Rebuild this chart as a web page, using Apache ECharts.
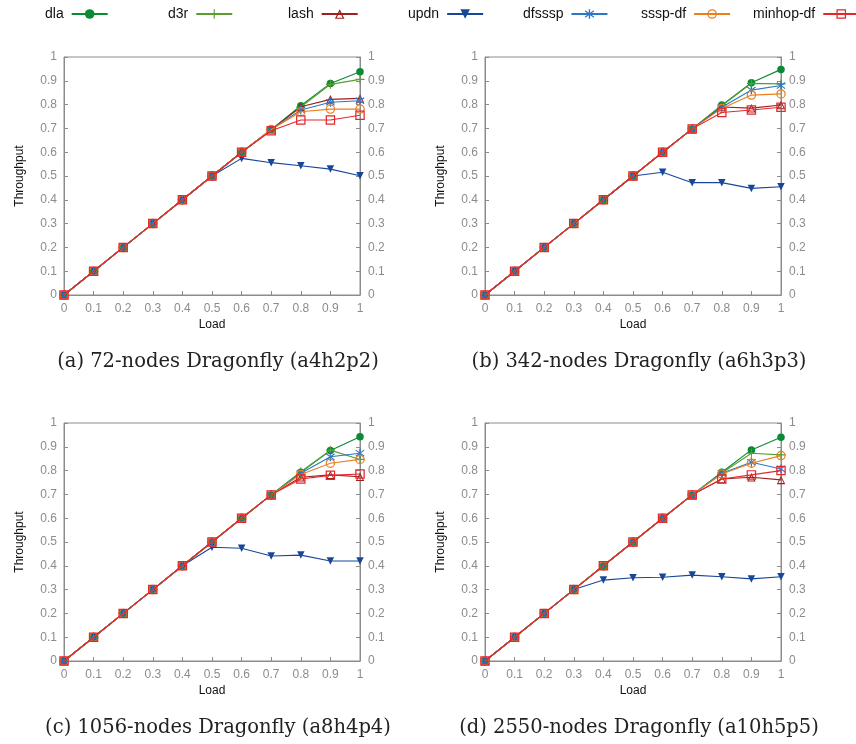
<!DOCTYPE html>
<html><head><meta charset="utf-8">
<script src="https://cdn.jsdelivr.net/npm/echarts@6/dist/echarts.min.js"></script>
<style>html,body{margin:0;padding:0;background:#fff}#c{width:856px;height:744px}</style>
</head><body><div id="c"></div>
<script>
const loads = [0, 0.1, 0.2, 0.3, 0.4, 0.5, 0.6, 0.7, 0.8, 0.9, 1];
const seriesNames = ['dla', 'd3r', 'lash', 'updn', 'dfsssp', 'sssp-df', 'minhop-df'];
const yTicks = ['0','0.1','0.2','0.3','0.4','0.5','0.6','0.7','0.8','0.9','1'];
const captions = ['(a) 72-nodes Dragonfly (a4h2p2)', '(b) 342-nodes Dragonfly (a6h3p3)',
                  '(c) 1056-nodes Dragonfly (a8h4p4)', '(d) 2550-nodes Dragonfly (a10h5p5)'];

// Panel (a)
const a_dla    = [0, 0.1, 0.2, 0.3, 0.4, 0.5, 0.6, 0.695, 0.795, 0.889, 0.938];
const a_d3r    = [0, 0.1, 0.2, 0.3, 0.4, 0.5, 0.6, 0.695, 0.790, 0.885, 0.906];
const a_lash   = [0, 0.1, 0.2, 0.3, 0.4, 0.5, 0.6, 0.695, 0.791, 0.822, 0.826];
const a_updn   = [0, 0.1, 0.2, 0.3, 0.4, 0.5, 0.574, 0.556, 0.543, 0.529, 0.501];
const a_dfsssp = [0, 0.1, 0.2, 0.3, 0.4, 0.5, 0.6, 0.695, 0.777, 0.810, 0.816];
const a_ssspdf = [0, 0.1, 0.2, 0.3, 0.4, 0.5, 0.6, 0.695, 0.770, 0.781, 0.781];
const a_minhop = [0, 0.1, 0.2, 0.3, 0.4, 0.5, 0.6, 0.690, 0.735, 0.735, 0.755];
// Panel (b)
const b_dla    = [0, 0.1, 0.2, 0.3, 0.4, 0.5, 0.6, 0.698, 0.798, 0.892, 0.948];
const b_d3r    = [0, 0.1, 0.2, 0.3, 0.4, 0.5, 0.6, 0.698, 0.795, 0.889, 0.887];
const b_lash   = [0, 0.1, 0.2, 0.3, 0.4, 0.5, 0.6, 0.698, 0.790, 0.785, 0.798];
const b_updn   = [0, 0.1, 0.2, 0.3, 0.4, 0.5, 0.516, 0.472, 0.472, 0.448, 0.455];
const b_dfsssp = [0, 0.1, 0.2, 0.3, 0.4, 0.5, 0.6, 0.698, 0.789, 0.861, 0.880];
const b_ssspdf = [0, 0.1, 0.2, 0.3, 0.4, 0.5, 0.6, 0.698, 0.784, 0.840, 0.845];
const b_minhop = [0, 0.1, 0.2, 0.3, 0.4, 0.5, 0.6, 0.698, 0.767, 0.777, 0.789];
// Panel (c)
const c_dla    = [0, 0.1, 0.2, 0.3, 0.4, 0.5, 0.6, 0.698, 0.793, 0.884, 0.942];
const c_d3r    = [0, 0.1, 0.2, 0.3, 0.4, 0.5, 0.6, 0.698, 0.795, 0.886, 0.847];
const c_lash   = [0, 0.1, 0.2, 0.3, 0.4, 0.5, 0.6, 0.698, 0.772, 0.782, 0.774];
const c_updn   = [0, 0.1, 0.2, 0.3, 0.4, 0.478, 0.474, 0.441, 0.445, 0.420, 0.420];
const c_dfsssp = [0, 0.1, 0.2, 0.3, 0.4, 0.5, 0.6, 0.698, 0.789, 0.858, 0.873];
const c_ssspdf = [0, 0.1, 0.2, 0.3, 0.4, 0.5, 0.6, 0.698, 0.784, 0.831, 0.847];
const c_minhop = [0, 0.1, 0.2, 0.3, 0.4, 0.5, 0.6, 0.698, 0.765, 0.780, 0.786];
// Panel (d)
const d_dla    = [0, 0.1, 0.2, 0.3, 0.4, 0.5, 0.6, 0.698, 0.793, 0.887, 0.940];
const d_d3r    = [0, 0.1, 0.2, 0.3, 0.4, 0.5, 0.6, 0.698, 0.790, 0.873, 0.866];
const d_lash   = [0, 0.1, 0.2, 0.3, 0.4, 0.5, 0.6, 0.698, 0.765, 0.772, 0.761];
const d_updn   = [0, 0.1, 0.2, 0.3, 0.340, 0.350, 0.352, 0.361, 0.354, 0.345, 0.354];
const d_dfsssp = [0, 0.1, 0.2, 0.3, 0.4, 0.5, 0.6, 0.698, 0.789, 0.835, 0.807];
const d_ssspdf = [0, 0.1, 0.2, 0.3, 0.4, 0.5, 0.6, 0.698, 0.786, 0.831, 0.863];
const d_minhop = [0, 0.1, 0.2, 0.3, 0.4, 0.5, 0.6, 0.698, 0.765, 0.782, 0.800];

const panels = [
  [a_dla, a_d3r, a_lash, a_updn, a_dfsssp, a_ssspdf, a_minhop],
  [b_dla, b_d3r, b_lash, b_updn, b_dfsssp, b_ssspdf, b_minhop],
  [c_dla, c_d3r, c_lash, c_updn, c_dfsssp, c_ssspdf, c_minhop],
  [d_dla, d_d3r, d_lash, d_updn, d_dfsssp, d_ssspdf, d_minhop]
];

const colors = ['#0a8a33', '#5a9e32', '#9e1f1f', '#18479a', '#2a78c6', '#ea7f1c', '#e5262b'];
const plusPath = 'path://M0,4.4H10V5.6H0Z M4.4,0H5.6V10H4.4Z';
const starPath = 'path://M4.4,0H5.6V10H4.4Z M0.8,2.1L1.4,1.1L9.2,7.9L8.6,8.9Z M0.8,7.9L1.4,8.9L9.2,2.1L8.6,1.1Z';
const ringTri = 'path://M5,0L10,10L0,10Z M5,2.8L1.9,8.8L8.1,8.8Z';
const ringCircle = 'path://M0,5A5,5 0 1,1 10,5A5,5 0 1,1 0,5Z M1.3,5A3.7,3.7 0 1,0 8.7,5A3.7,3.7 0 1,0 1.3,5Z';
const ringSquare = 'path://M0,0H10V10H0Z M1.3,1.3V8.7H8.7V1.3Z';
const symbols = ['circle', plusPath, ringTri, 'triangle', starPath, ringCircle, ringSquare];
const symSizes = [7.5, 9, 8.5, 7.5, 9, 9.5, 9.5];
const symRot = [0, 0, 0, 180, 0, 0, 0];

const gridPos = [[64, 57], [485, 57], [64, 423], [485, 423]];
const W = 296, H = 238;
const labelColor = '#8c8c8c', axisColor = '#8c8c8c';
const sansFont = 'Liberation Sans';

const grid = [], xAxis = [], yAxis = [], series = [];
gridPos.forEach((p, i) => {
  grid.push({left: p[0], top: p[1], width: W, height: H, show: true, borderColor: axisColor, borderWidth: 1});
  xAxis.push({type: 'value', gridIndex: i, min: 0, max: 1, interval: 0.1,
    name: 'Load', nameLocation: 'middle', nameGap: 24,
    nameTextStyle: {color: '#111', fontSize: 12, fontFamily: sansFont},
    axisLine: {lineStyle: {color: axisColor}}, splitLine: {show: false},
    axisTick: {inside: true, length: 4, lineStyle: {color: axisColor}},
    axisLabel: {color: labelColor, fontSize: 12, fontFamily: sansFont, margin: 8,
      formatter: v => yTicks[Math.round(v * 10)]}});
  yAxis.push({type: 'value', gridIndex: i, min: 0, max: 1, interval: 0.1, position: 'left',
    name: 'Throughput', nameLocation: 'middle', nameRotate: 90, nameGap: 38,
    nameTextStyle: {color: '#111', fontSize: 12, fontFamily: sansFont},
    axisLine: {show: true, lineStyle: {color: axisColor}}, splitLine: {show: false},
    axisTick: {show: true, inside: true, length: 4, lineStyle: {color: axisColor}},
    axisLabel: {color: labelColor, fontSize: 12, fontFamily: sansFont, margin: 7,
      formatter: v => yTicks[Math.round(v * 10)]}});
  yAxis.push({type: 'value', gridIndex: i, min: 0, max: 1, interval: 0.1, position: 'right',
    axisLine: {show: true, lineStyle: {color: axisColor}}, splitLine: {show: false},
    axisTick: {show: true, inside: true, length: 4, lineStyle: {color: axisColor}},
    axisLabel: {color: labelColor, fontSize: 12, fontFamily: sansFont, margin: 8,
      formatter: v => yTicks[Math.round(v * 10)]}});
  panels[i].forEach((vals, k) => {
    series.push({
      name: seriesNames[k], type: 'line', xAxisIndex: i, yAxisIndex: i * 2,
      data: loads.map((x, j) => [x, vals[j]]),
      symbol: symbols[k], symbolSize: symSizes[k], symbolRotate: symRot[k],
      showAllSymbol: true, animation: false, z: 2 + k,
      lineStyle: {color: colors[k], width: 1.1},
      itemStyle: {color: colors[k], borderWidth: 0}
    });
  });
});

const legendLeft = [40, 163, 283, 403, 518, 636, 748];
const legend = seriesNames.map((n, k) => ({
  data: [n], left: legendLeft[k], top: 2, align: 'right', orient: 'horizontal',
  itemWidth: 36, itemHeight: 12, itemGap: 0, selectedMode: false,
  textStyle: {color: '#111', fontSize: 14, fontFamily: sansFont, padding: [0, 3, 0, 0]}
}));

const graphic = captions.map((t, i) => ({
  type: 'text', x: gridPos[i][0] + W / 2 + 6, y: gridPos[i][1] + H + 67,
  style: {text: t, fill: '#222', font: '19.5px "DejaVu Serif"', textAlign: 'center', textVerticalAlign: 'middle'}
}));

const chart = echarts.init(document.getElementById('c'), null, {renderer: 'canvas'});
chart.setOption({animation: false, backgroundColor: '#fff', grid, xAxis, yAxis, series, legend, graphic});
</script></body></html>
